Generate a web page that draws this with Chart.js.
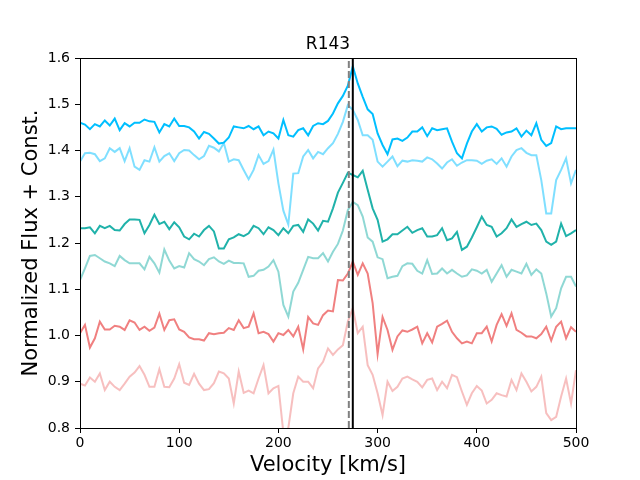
<!DOCTYPE html>
<html>
<head>
<meta charset="utf-8">
<title>R143</title>
<script src="https://cdn.jsdelivr.net/npm/chart.js@4.4.1/dist/chart.umd.min.js"></script>
<style>
  html, body { margin: 0; padding: 0; background: #fff; }
  #wrap { width: 640px; height: 480px; }
</style>
</head>
<body>
<div id="wrap"><canvas id="spectra"></canvas></div>
<script>
// velocity grid [km/s]
const velocity = [
  0, 5, 10, 15, 20, 25, 30, 35, 40, 45, 50, 55, 60, 65, 70, 75, 80, 85, 90, 95,
  100, 105, 110, 115, 120, 125, 130, 135, 140, 145, 150, 155, 160, 165, 170, 175, 180, 185, 190, 195,
  200, 205, 210, 215, 220, 225, 230, 235, 240, 245, 250, 255, 260, 265, 270, 275, 280, 285, 290, 295,
  300, 305, 310, 315, 320, 325, 330, 335, 340, 345, 350, 355, 360, 365, 370, 375, 380, 385, 390, 395,
  400, 405, 410, 415, 420, 425, 430, 435, 440, 445, 450, 455, 460, 465, 470, 475, 480, 485, 490, 495,
  500
];

// normalized flux, offset per line (top to bottom)
const fluxBlue = [
  1.460, 1.456, 1.446, 1.457, 1.452, 1.465, 1.454, 1.469, 1.444, 1.459, 1.452, 1.460, 1.460, 1.467, 1.463, 1.462, 1.439, 1.457, 1.452, 1.469,
  1.453, 1.453, 1.450, 1.441, 1.426, 1.440, 1.436, 1.426, 1.415, 1.417, 1.428, 1.452, 1.450, 1.448, 1.453, 1.446, 1.452, 1.433, 1.441, 1.437,
  1.426, 1.466, 1.433, 1.430, 1.444, 1.448, 1.433, 1.453, 1.459, 1.457, 1.464, 1.480, 1.502, 1.518, 1.540, 1.582, 1.545, 1.516, 1.489, 1.479,
  1.437, 1.412, 1.392, 1.424, 1.426, 1.421, 1.428, 1.441, 1.441, 1.450, 1.431, 1.448, 1.444, 1.446, 1.448, 1.419, 1.394, 1.383, 1.415, 1.441,
  1.457, 1.441, 1.450, 1.452, 1.447, 1.434, 1.439, 1.441, 1.448, 1.430, 1.443, 1.433, 1.459, 1.423, 1.410, 1.416, 1.452, 1.446, 1.448, 1.448,
  1.448
];
const fluxBlueLight = [
  1.376, 1.394, 1.395, 1.392, 1.377, 1.383, 1.405, 1.397, 1.405, 1.377, 1.405, 1.365, 1.358, 1.379, 1.376, 1.407, 1.376, 1.388, 1.394, 1.377,
  1.394, 1.401, 1.400, 1.390, 1.381, 1.388, 1.410, 1.406, 1.398, 1.416, 1.376, 1.381, 1.379, 1.358, 1.338, 1.358, 1.390, 1.371, 1.377, 1.402,
  1.329, 1.270, 1.240, 1.350, 1.351, 1.387, 1.401, 1.383, 1.397, 1.392, 1.405, 1.416, 1.436, 1.462, 1.498, 1.488, 1.466, 1.433, 1.433, 1.423,
  1.376, 1.365, 1.376, 1.387, 1.366, 1.378, 1.376, 1.379, 1.378, 1.376, 1.385, 1.381, 1.372, 1.361, 1.374, 1.381, 1.367, 1.374, 1.379, 1.379,
  1.378, 1.371, 1.378, 1.381, 1.371, 1.383, 1.365, 1.387, 1.401, 1.405, 1.395, 1.390, 1.390, 1.336, 1.264, 1.264, 1.336, 1.358, 1.383, 1.329,
  1.358
];
const fluxTeal = [
  1.232, 1.232, 1.234, 1.221, 1.237, 1.232, 1.237, 1.228, 1.227, 1.241, 1.251, 1.251, 1.250, 1.221, 1.239, 1.261, 1.241, 1.246, 1.230, 1.245,
  1.234, 1.214, 1.208, 1.220, 1.214, 1.228, 1.237, 1.225, 1.188, 1.188, 1.208, 1.212, 1.219, 1.215, 1.221, 1.237, 1.232, 1.219, 1.234, 1.228,
  1.217, 1.232, 1.221, 1.237, 1.239, 1.224, 1.251, 1.242, 1.227, 1.248, 1.246, 1.275, 1.309, 1.330, 1.352, 1.347, 1.342, 1.356, 1.315, 1.275,
  1.250, 1.203, 1.208, 1.219, 1.219, 1.227, 1.235, 1.222, 1.228, 1.232, 1.214, 1.214, 1.217, 1.232, 1.206, 1.210, 1.224, 1.185, 1.192, 1.212,
  1.234, 1.257, 1.239, 1.235, 1.214, 1.221, 1.232, 1.251, 1.235, 1.241, 1.246, 1.239, 1.242, 1.228, 1.203, 1.196, 1.203, 1.242, 1.215, 1.221,
  1.228
];
const fluxTealLight = [
  1.120, 1.145, 1.172, 1.174, 1.167, 1.160, 1.156, 1.150, 1.172, 1.163, 1.156, 1.156, 1.156, 1.143, 1.170, 1.156, 1.136, 1.186, 1.162, 1.145,
  1.150, 1.147, 1.178, 1.165, 1.160, 1.152, 1.165, 1.169, 1.160, 1.155, 1.162, 1.157, 1.157, 1.156, 1.127, 1.129, 1.140, 1.142, 1.149, 1.163,
  1.138, 1.066, 1.041, 1.095, 1.114, 1.142, 1.170, 1.167, 1.167, 1.178, 1.160, 1.181, 1.198, 1.227, 1.271, 1.289, 1.282, 1.257, 1.212, 1.203,
  1.169, 1.165, 1.124, 1.127, 1.129, 1.150, 1.156, 1.155, 1.140, 1.134, 1.163, 1.133, 1.134, 1.145, 1.134, 1.142, 1.134, 1.127, 1.130, 1.143,
  1.140, 1.134, 1.142, 1.116, 1.134, 1.152, 1.127, 1.142, 1.138, 1.134, 1.155, 1.131, 1.143, 1.134, 1.091, 1.041, 1.059, 1.102, 1.127, 1.127,
  1.106
];
const fluxCoral = [
  1.005, 1.023, 0.974, 0.994, 1.030, 1.013, 1.013, 1.021, 1.019, 1.012, 1.033, 1.028, 1.012, 1.019, 1.010, 1.017, 1.047, 1.012, 1.033, 1.035,
  1.013, 1.008, 0.996, 0.992, 0.992, 0.989, 1.005, 1.003, 1.005, 1.006, 1.016, 1.012, 1.033, 1.016, 1.019, 1.048, 1.005, 1.008, 1.003, 0.987,
  1.005, 1.001, 1.012, 0.998, 1.019, 0.970, 1.040, 1.026, 1.023, 1.044, 1.054, 1.052, 1.120, 1.119, 1.134, 1.160, 1.131, 1.156, 1.134, 1.070,
  0.960, 1.040, 1.012, 0.969, 0.998, 1.011, 1.008, 1.013, 1.019, 0.983, 1.005, 0.985, 1.019, 1.025, 1.032, 1.008, 0.994, 0.983, 0.987, 0.983,
  1.005, 1.005, 1.019, 0.987, 1.023, 1.046, 1.021, 1.048, 1.012, 1.006, 0.998, 0.998, 0.994, 1.003, 1.019, 0.989, 1.019, 1.030, 0.994, 1.018,
  1.008
];
const fluxCoralLight = [
  0.896, 0.892, 0.909, 0.900, 0.918, 0.882, 0.900, 0.889, 0.882, 0.896, 0.911, 0.920, 0.934, 0.915, 0.889, 0.889, 0.927, 0.889, 0.888, 0.907,
  0.938, 0.898, 0.893, 0.917, 0.896, 0.882, 0.884, 0.897, 0.922, 0.918, 0.907, 0.853, 0.922, 0.876, 0.881, 0.875, 0.907, 0.936, 0.875, 0.886,
  0.891, 0.790, 0.800, 0.875, 0.911, 0.900, 0.900, 0.886, 0.929, 0.943, 0.972, 0.958, 0.970, 0.979, 1.030, 1.059, 1.005, 1.019, 0.936, 0.915,
  0.875, 0.828, 0.900, 0.880, 0.889, 0.907, 0.911, 0.905, 0.900, 0.888, 0.904, 0.907, 0.882, 0.900, 0.886, 0.915, 0.910, 0.879, 0.850, 0.875,
  0.891, 0.881, 0.853, 0.861, 0.875, 0.871, 0.868, 0.904, 0.882, 0.918, 0.900, 0.879, 0.889, 0.911, 0.832, 0.817, 0.824, 0.868, 0.907, 0.853,
  0.925
];

// reference velocities for the vertical markers [km/s]
const dashedVelocity = 271;
const solidVelocity = 275;

// axis ticks
const xTicks = [0, 100, 200, 300, 400, 500];
const yTicks = [0.8, 0.9, 1.0, 1.1, 1.2, 1.3, 1.4, 1.5, 1.6];

const plotTitle = 'R143';

Chart.defaults.font.family = "'DejaVu Sans', sans-serif";
Chart.defaults.color = '#000';

function toPoints(flux) {
    return velocity.map(function (v, i) { return { x: v, y: flux[i] }; });
}

function marker(vel) {
    return [{ x: vel, y: yTicks[0] }, { x: vel, y: yTicks[yTicks.length - 1] }];
}

// box around the axes + title centred over the plot area (like matplotlib)
const frame = {
    id: 'frame',
    afterDraw(chart) {
        const ctx = chart.ctx;
        const a = chart.chartArea;
        ctx.save();
        ctx.strokeStyle = '#000';
        ctx.lineWidth = 1;
        ctx.strokeRect(Math.round(a.left) + 0.5, Math.round(a.top) + 0.5,
            Math.round(a.right - a.left), Math.round(a.bottom - a.top));
        ctx.fillStyle = '#000';
        ctx.font = "17px 'DejaVu Sans', sans-serif";
        ctx.textAlign = 'center';
        ctx.textBaseline = 'alphabetic';
        ctx.fillText(plotTitle, (a.left + a.right) / 2, a.top - 9);
        ctx.restore();
    }
};

function spectrum(flux, color) {
    return {
        data: toPoints(flux),
        borderColor: color,
        borderWidth: 2,
        pointRadius: 0,
        tension: 0,
        fill: false,
        order: 1
    };
}

new Chart('spectra', {
    type: 'line',
    data: {
        datasets: [
            spectrum(fluxBlue, '#00bfff'),
            spectrum(fluxBlueLight, 'rgba(0, 191, 255, 0.5)'),
            spectrum(fluxTeal, '#20b2aa'),
            spectrum(fluxTealLight, 'rgba(32, 178, 170, 0.5)'),
            spectrum(fluxCoral, '#f08080'),
            spectrum(fluxCoralLight, 'rgba(240, 128, 128, 0.5)'),
            {
                data: marker(dashedVelocity),
                borderColor: '#808080',
                borderWidth: 2,
                borderDash: [7, 3],
                pointRadius: 0,
                order: 0
            },
            {
                data: marker(solidVelocity),
                borderColor: '#000',
                borderWidth: 2,
                pointRadius: 0,
                order: 0
            }
        ]
    },
    options: {
        responsive: true,
        maintainAspectRatio: false,
        animation: false,
        layout: { padding: { left: 0, right: 64, top: 58, bottom: 0 } },
        scales: {
            x: {
                type: 'linear',
                min: 0,
                max: 500,
                afterBuildTicks: function (s) { s.ticks = xTicks.map(function (v) { return { value: v }; }); },
                afterFit: function (s) { s.height = 52; },
                grid: { drawOnChartArea: false, drawTicks: true, tickLength: 5, color: '#000', lineWidth: 1 },
                border: { display: true, color: '#000', width: 1 },
                ticks: { font: { size: 14 }, padding: 2, maxRotation: 0, color: '#000',
                    callback: function (v) { return String(v); } },
                title: { display: true, text: 'Velocity [km/s]', font: { size: 21 },
                    padding: { top: 0, bottom: 2 } }
            },
            y: {
                min: 0.8,
                max: 1.6,
                afterBuildTicks: function (s) { s.ticks = yTicks.map(function (v) { return { value: v }; }); },
                afterFit: function (s) { s.width = 80; },
                grid: { drawOnChartArea: false, drawTicks: true, tickLength: 5, color: '#000', lineWidth: 1 },
                border: { display: true, color: '#000', width: 1 },
                ticks: { font: { size: 14 }, padding: 5, color: '#000',
                    callback: function (v) { return Number(v).toFixed(1); } },
                title: { display: true, text: 'Normalized Flux + Const.', font: { size: 21 },
                    padding: { top: 19, bottom: 0 } }
            }
        },
        plugins: {
            legend: { display: false },
            tooltip: { enabled: false },
            title: { display: false }
        }
    },
    plugins: [frame]
});
</script>
</body>
</html>
